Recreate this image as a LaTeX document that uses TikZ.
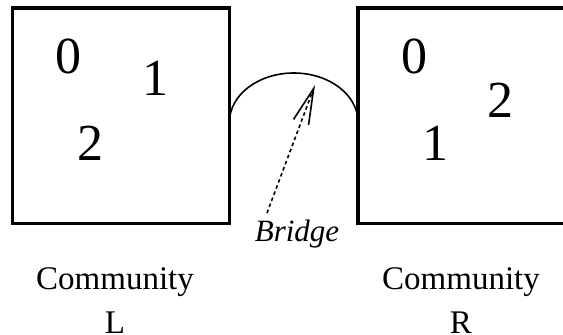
\documentclass[tikz,border=0pt]{standalone}
\usepackage{fontspec}
\setmainfont{Liberation Serif}
\usetikzlibrary{arrows.meta}
\begin{document}
\begin{tikzpicture}[x=1pt,y=-1pt,
  box/.style={line width=3.5pt,line join=miter},
  digit/.style={inner sep=0pt,anchor=base,font=\fontsize{52}{60}\selectfont},
  comm/.style={inner sep=0pt,anchor=base,align=center,font=\fontsize{33}{44}\selectfont},
  bridgelbl/.style={inner sep=0pt,anchor=base,font=\fontsize{31}{36}\selectfont\itshape},
  bridgearc/.style={line width=1.6pt},
  pointer/.style={line width=1.6pt,dash pattern=on 3.5pt off 3pt,-{Straight Barb[length=36pt,width=16pt,line width=1.6pt]}}]
\useasboundingbox (0,0) rectangle (563,335);
% left community
\draw[box] (12.5,8) rectangle (229.5,223.5);
\node[digit] (l0) at (68,73) {0};
\node[digit] (l1) at (155,95.5) {1};
\node[digit] (l2) at (90,160) {2};
% right community (cut by the right edge)
\draw[box] (575,8) -- (358,8) -- (358,223.5) -- (575,223.5);
\node[digit] (r0) at (414,73) {0};
\node[digit] (r2) at (500,117) {2};
\node[digit] (r1) at (435,160) {1};
% bridge arc
\draw[bridgearc] (229.5,122) arc[start angle=180,end angle=360,x radius=64.25,y radius=49];
% labels
\node[bridgelbl] (br) at (297,241) {Bridge};
\node[comm] (cl) at (115,333) {Community\\L};
\node[comm] (cr) at (461,333) {Community\\R};
% pointer
\coordinate (ptail) at (267,213);
\coordinate (phead) at (315,85);
\draw[pointer] (ptail) -- (phead);
\end{tikzpicture}
\end{document}
